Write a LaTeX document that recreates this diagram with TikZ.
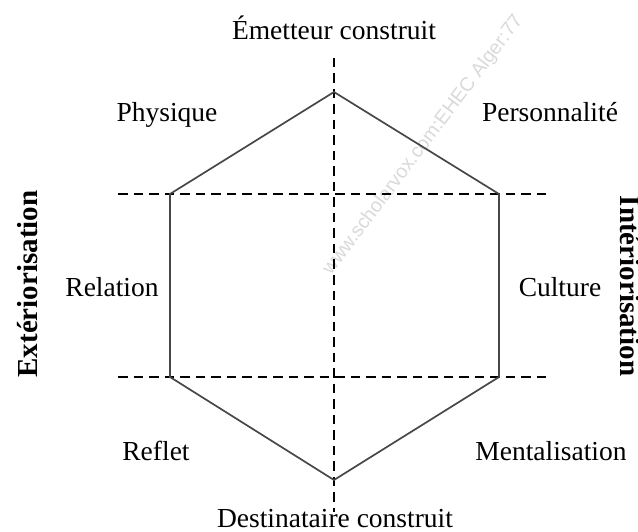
\documentclass[tikz,border=0pt]{standalone}
\usepackage{fontspec}
\setmainfont{Liberation Serif}
\newfontfamily\wmfont{Liberation Sans}
\begin{document}
\begin{tikzpicture}[x=1pt,y=-1pt,
  lbl/.style={font=\fontsize{27.5}{30}\selectfont, anchor=base, inner sep=0pt},
  sidelbl/.style={font=\fontsize{29}{32}\selectfont\bfseries, anchor=base, inner sep=0pt},
  hexline/.style={draw=black!72, line width=1.7pt, line join=miter},
  axis/.style={draw=black, line width=1.6pt, dash pattern=on 9.5pt off 6pt},
  wm/.style={font=\wmfont\fontsize{19.5}{21}\selectfont, text=black!15, anchor=base west, inner sep=0pt, rotate=53}]
\useasboundingbox (0,0) rectangle (638,532);
\clip (0,0) rectangle (638,532);
% watermark
\node[wm] (wmark) at (331,276) {www.scholarvox.com:EHEC Alger:77};
% hexagon vertices
\coordinate (T) at (334,92);
\coordinate (UL) at (170,194);
\coordinate (UR) at (499,194);
\coordinate (LR) at (499,377);
\coordinate (LL) at (170,377);
\coordinate (B) at (334,480);
% axis endpoints
\coordinate (vtop) at (334,58);
\coordinate (vbot) at (334,512);
\coordinate (h1l) at (118,194);
\coordinate (h1r) at (548,194);
\coordinate (h2l) at (118,377);
\coordinate (h2r) at (548,377);
% dashed axes
\draw[axis] (vtop) -- (vbot);
\draw[axis] (h1l) -- (h1r);
\draw[axis] (h2l) -- (h2r);
% hexagon
\draw[hexline] (T) -- (UR) -- (LR) -- (B) -- (LL) -- (UL) -- cycle;
% labels
\node[lbl] (emet) at (334,40) {Émetteur construit};
\node[lbl] (phys) at (167,122) {Physique};
\node[lbl] (pers) at (550,122) {Personnalité};
\node[lbl] (rel) at (112,297) {Relation};
\node[lbl] (cult) at (560,297) {Culture};
\node[lbl] (refl) at (156,460) {Reflet};
\node[lbl] (ment) at (551,460) {Mentalisation};
\node[lbl] (dest) at (335,527) {Destinataire construit};
\node[sidelbl, rotate=90] (ext) at (37,284) {Extériorisation};
\node[sidelbl, rotate=-90] (int) at (620,286) {Intériorisation};
\end{tikzpicture}
\end{document}
